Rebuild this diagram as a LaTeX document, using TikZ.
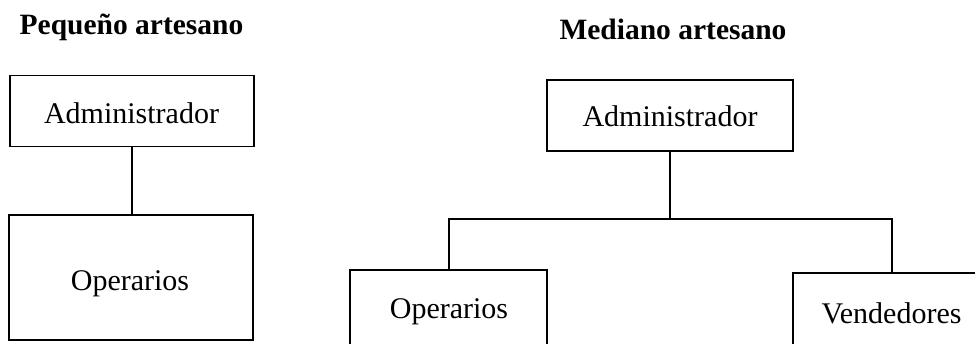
\documentclass[tikz,border=0pt]{standalone}
\usepackage{fontspec}
\setmainfont{Liberation Serif}
\begin{document}
\begin{tikzpicture}[x=1pt,y=-1pt,line width=1.8pt,
  box/.style={draw,inner sep=0pt},
  ttl/.style={font=\fontsize{29.5}{34}\selectfont\bfseries,anchor=base,inner sep=0pt},
  lbl/.style={font=\fontsize{30}{34}\selectfont,anchor=base,inner sep=0pt}]
\useasboundingbox (0,0) rectangle (975,343);
\clip (0,0) rectangle (975,343);
% left chart
\node[ttl] (t1) at (131.5,34.5) {Pequeño artesano};
\node[box,minimum width=244pt,minimum height=71pt] (a1) at (132,111) {};
\node[lbl] (a1t) at (131.5,123) {Administrador};
\node[box,minimum width=244pt,minimum height=125pt] (o1) at (131,277.5) {};
\node[lbl] (o1t) at (130,290) {Operarios};
\draw (a1.south) -- (a1.south |- o1.north);
% right chart
\node[ttl] (t2) at (673,39) {Mediano artesano};
\node[box,minimum width=246pt,minimum height=71pt] (a2) at (670,115.5) {};
\node[lbl] (a2t) at (670,126) {Administrador};
\node[box,minimum width=197pt,minimum height=120pt] (o2) at (448.5,330) {};
\node[lbl] (o2t) at (449,318) {Operarios};
\node[box,minimum width=300pt,minimum height=120pt,anchor=north west] (v2) at (792,272) {};
\node[lbl] (v2t) at (891.5,323) {Vendedores};
\coordinate (h) at (670,219);
\coordinate (hl) at (449,219);
\coordinate (hr) at (892,219);
\draw (a2.south -| h) -- (h);
\draw (hl |- o2.north) -- (hl) -- (hr) -- (hr |- v2.north);
\end{tikzpicture}
\end{document}
